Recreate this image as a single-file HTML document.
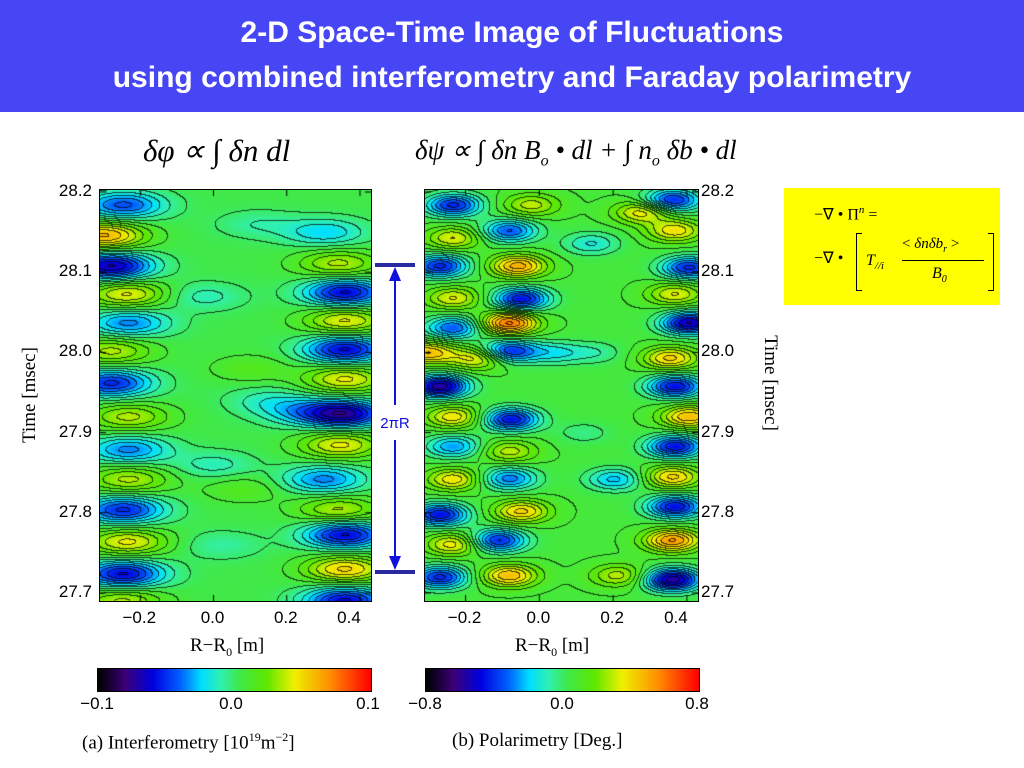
<!DOCTYPE html>
<html><head><meta charset="utf-8"><style>
body{margin:0;width:1024px;height:768px;background:#fff;position:relative;overflow:hidden;font-family:"Liberation Sans",sans-serif}
.abs{position:absolute}
#title{left:0;top:0;width:1024px;height:112px;background:#4646f5;color:#fff;font-weight:bold;font-size:30px;text-align:center;line-height:45px;padding-top:10px;box-sizing:border-box}
.tk{position:absolute;font-size:17px;color:#000}
.serif{font-family:"Liberation Serif",serif}
canvas{position:absolute;border:1px solid #000;box-sizing:border-box}
</style></head><body>
<div id="title" class="abs">2-D Space-Time Image of Fluctuations<br>using combined interferometry and Faraday polarimetry</div>
<div class="abs serif" style="left:143px;top:133px;font-size:31px;font-style:italic">δφ ∝ ∫ δn dl</div>
<div class="abs serif" style="left:415px;top:135px;font-size:27px;font-style:italic;white-space:nowrap">δψ ∝ ∫ δn B<sub style="font-size:16px">o</sub> • dl + ∫ n<sub style="font-size:16px">o</sub> δb • dl</div>
<canvas id="c1" width="271" height="411" style="left:99px;top:189px"></canvas>
<canvas id="c2" width="273" height="411" style="left:424px;top:189px"></canvas>
<canvas id="cb1" width="273" height="22" style="left:97px;top:668px"></canvas>
<canvas id="cb2" width="273" height="22" style="left:425px;top:668px"></canvas>
<div id="labels"></div>
<div class="abs serif" style="top:395px;transform:translate(-50%,-50%) rotate(-90deg);left:30px;font-size:19px;white-space:nowrap">Time [msec]</div>
<div class="abs serif" style="left:770px;top:383px;transform:translate(-50%,-50%) rotate(90deg);font-size:19px;white-space:nowrap">Time [msec]</div>
<div class="abs serif" style="left:190px;top:635px;font-size:19px">R−R<sub style="font-size:12px">0</sub> [m]</div>
<div class="abs serif" style="left:515px;top:635px;font-size:19px">R−R<sub style="font-size:12px">0</sub> [m]</div>
<div class="abs serif" style="left:82px;top:730px;font-size:19px;white-space:nowrap">(a) Interferometry [10<sup style="font-size:12px">19</sup>m<sup style="font-size:12px">−2</sup>]</div>
<div class="abs serif" style="left:452px;top:730px;font-size:19px;white-space:nowrap">(b) Polarimetry [Deg.]</div>
<svg class="abs" style="left:370px;top:255px" width="55" height="330">
<line x1="5" y1="10" x2="45" y2="10" stroke="#2a2aa0" stroke-width="4"/>
<line x1="5" y1="317" x2="45" y2="317" stroke="#2a2aa0" stroke-width="4"/>
<line x1="25" y1="14" x2="25" y2="150" stroke="#1010e0" stroke-width="2"/>
<line x1="25" y1="185" x2="25" y2="313" stroke="#1010e0" stroke-width="2"/>
<polygon points="25,12 19,26 31,26" fill="#1010e0"/><polygon points="25,315 19,301 31,301" fill="#1010e0"/>
<text x="25" y="173" text-anchor="middle" font-size="15" fill="#1010e0" font-family="Liberation Sans">2πR</text>
</svg>
<div class="abs serif" style="left:784px;top:188px;width:216px;height:117px;background:#ffff00;font-size:16px">
<div class="abs" style="left:30px;top:16px;white-space:nowrap">−∇ • Π<sup style="font-size:11px"><i>n</i></sup> =</div>
<div class="abs" style="left:30px;top:60px;white-space:nowrap">−∇ •</div>
<div class="abs" style="left:72px;top:45px;height:56px;border:1px solid #000;border-right:none;width:5px"></div>
<div class="abs" style="left:82px;top:64px;font-style:italic">T<sub style="font-size:11px">//i</sub></div>
<div class="abs" style="left:118px;top:48px;white-space:nowrap;font-size:15px">&lt; <i>δnδb<sub style="font-size:10px">r</sub></i> &gt;</div>
<div class="abs" style="left:118px;top:72px;width:82px;border-top:1px solid #000"></div>
<div class="abs" style="left:148px;top:77px;font-style:italic">B<sub style="font-size:10px">0</sub></div>
<div class="abs" style="left:204px;top:45px;height:56px;width:5px;border:1px solid #000;border-left:none"></div>
</div>
<script>
const R0=-0.31,R1=0.43,T0=27.69,T1=28.2025;
const yTicks=[28.2,28.1,28.0,27.9,27.8,27.7];
const yTickLabels=["28.2","28.1","28.0","27.9","27.8","27.7"];
const xTicks=[-0.2,0.0,0.2,0.4];
const xTickLabels=["−0.2","0.0","0.2","0.4"];
const leftR=[-0.247,-0.30,-0.28,-0.236,-0.233,-0.28,-0.28,-0.233,-0.233,-0.233,-0.247,-0.236,-0.247,-0.25, 0.303,0.34,0.358,0.358,0.358,0.358,0.358,0.24,0.345,0.30,0.34,0.358,0.358,0.358, -0.03,0.10,0.0,0.08,0.12,0.15,0.02];
const leftT=[28.184,28.146,28.108,28.073,28.037,28.002,27.962,27.920,27.879,27.842,27.804,27.764,27.724,27.691, 28.150,28.111,28.075,28.040,28.004,27.967,27.924,27.926,27.885,27.842,27.804,27.773,27.730,27.691, 28.07,27.98,27.86,27.83,28.16,27.94,27.76];
const leftV=[-0.06,0.07,-0.09,0.05,-0.05,0.04,-0.07,0.04,-0.05,0.04,-0.07,0.05,-0.08,0.04, -0.035,0.04,-0.08,0.05,-0.08,0.05,-0.09,-0.03,0.05,-0.05,0.04,-0.08,0.06,-0.08, -0.02,0.015,-0.02,0.015,-0.015,-0.02,-0.015];
const rightR=[-0.234,-0.083,-0.023,0.277,0.36,0.14,0.367,-0.234,-0.059,-0.27,0.405,-0.05,-0.234,-0.083,-0.234,0.405,0.367,-0.083,0.04,-0.305,-0.168,0.354,-0.27,0.367,-0.078,-0.234,0.405,-0.234,-0.083,0.367,-0.234,-0.083,0.203,0.36,-0.27,-0.05,0.367,-0.234,-0.113,0.36,-0.27,-0.083,0.214,0.36,0.15,0.12];
const rightT=[28.184,28.152,28.184,28.175,28.19,28.136,28.152,28.143,28.108,28.108,28.106,28.067,28.068,28.037,28.031,28.037,28.073,28.002,28.0,28.0,27.993,27.993,27.958,27.958,27.917,27.920,27.920,27.883,27.877,27.883,27.842,27.843,27.842,27.845,27.798,27.802,27.808,27.761,27.766,27.766,27.72,27.722,27.722,27.717,28.0,27.90];
const rightV=[-0.6,-0.5,0.3,0.4,-0.6,-0.25,0.4,0.35,0.55,-0.6,-0.6,-0.65,0.35,0.7,-0.5,-0.75,0.35,-0.6,-0.25,0.5,0.4,0.45,-0.8,-0.65,-0.65,0.4,0.5,-0.4,0.3,-0.65,0.4,-0.45,-0.35,0.45,-0.65,0.45,-0.65,0.4,-0.6,0.6,-0.6,0.5,0.3,-0.8,-0.15,-0.12];
const stops=[[0,0,0,0],[0.1,60,0,120],[0.2,0,0,225],[0.3,0,96,255],[0.38,0,224,255],[0.45,48,240,176],[0.52,64,232,72],[0.62,96,232,0],[0.72,240,240,0],[0.85,255,144,0],[1,255,0,0]];
function cmap(u){u=Math.max(0,Math.min(1,u));for(let i=1;i<stops.length;i++){if(u<=stops[i][0]){const a=stops[i-1],b=stops[i],f=(u-a[0])/(b[0]-a[0]);return [a[1]+f*(b[1]-a[1]),a[2]+f*(b[2]-a[2]),a[3]+f*(b[3]-a[3])];}}return [255,0,0];}
function xs(r,w){return (r-R0)/(R1-R0)*w;}
function ys(t,h){return (T1-t)/(T1-T0)*h;}
function draw(id,Rs,Ts,Vs,vmax,base,sr,st,gain){
  const c=document.getElementById(id),ctx=c.getContext('2d'),w=c.width,h=c.height;
  const img=ctx.createImageData(w,h),q=new Float32Array(w*h);
  const px=Rs.map(r=>xs(r,w)),py=Ts.map(t=>ys(t,h)),sx=sr/(R1-R0)*w,sy=st/(T1-T0)*h;
  for(let y=0;y<h;y++)for(let x=0;x<w;x++){let v=base;for(let k=0;k<px.length;k++){const dx=(x-px[k])/sx,dy=(y-py[k])/sy;const e=dx*dx+dy*dy;if(e<12)v+=gain*Vs[k]*Math.exp(-e);}q[y*w+x]=(v/vmax+1)/2;}
  for(let y=0;y<h;y++)for(let x=0;x<w;x++){const u=q[y*w+x],L=Math.floor(u*24);let line=false;
    if(x+1<w&&Math.floor(q[y*w+x+1]*24)!==L)line=true;if(y+1<h&&Math.floor(q[(y+1)*w+x]*24)!==L)line=true;
    let col=cmap(u);if(line)col=col.map(v=>v*0.3);const i=(y*w+x)*4;img.data[i]=col[0];img.data[i+1]=col[1];img.data[i+2]=col[2];img.data[i+3]=255;}
  ctx.putImageData(img,0,0);
  ctx.strokeStyle='#000';
  yTicks.forEach(t=>{const y=ys(t,h);ctx.beginPath();ctx.moveTo(0,y);ctx.lineTo(6,y);ctx.moveTo(w,y);ctx.lineTo(w-6,y);ctx.stroke();});
  xTicks.forEach(r=>{const x=xs(r,w);ctx.beginPath();ctx.moveTo(x,h);ctx.lineTo(x,h-6);ctx.moveTo(x,0);ctx.lineTo(x,6);ctx.stroke();});
}
draw('c1',leftR,leftT,leftV,0.1,0.004,0.11,0.017,0.8);
draw('c2',rightR,rightT,rightV,0.8,0.06,0.075,0.014,0.8);
['cb1','cb2'].forEach(id=>{const c=document.getElementById(id),ctx=c.getContext('2d');for(let x=0;x<c.width;x++){const k=cmap(x/(c.width-1));ctx.fillStyle=`rgb(${k[0]|0},${k[1]|0},${k[2]|0})`;ctx.fillRect(x,0,1,c.height);}});
const L=document.getElementById('labels');
function lab(txt,x,y,name,align){const d=document.createElement('div');d.className='tk';d.textContent=txt;d.style.left=x+'px';d.style.top=y+'px';d.style.transform=align;


L.appendChild(d);}
yTicks.forEach((t,i)=>{const y=189+ys(t,411);lab(yTickLabels[i],92,y,'y-tick-left','translate(-100%,-50%)');lab(yTickLabels[i],701,y,'y-tick-right','translate(0,-50%)');});
xTicks.forEach((r,i)=>{lab(xTickLabels[i],99+xs(r,271)-(i==3?10:0),608,'x-tick-left','translate(-50%,0)');lab(xTickLabels[i],424+xs(r,273)-(i==3?10:0),608,'x-tick-right','translate(-50%,0)');});
const cbl=[["−0.1",97],["0.0",231],["0.1",368],["−0.8",425],["0.0",562],["0.8",697]];
cbl.forEach(a=>lab(a[0],a[1],694,'colorbar-tick','translate(-50%,0)'));
</script>
</body></html>
